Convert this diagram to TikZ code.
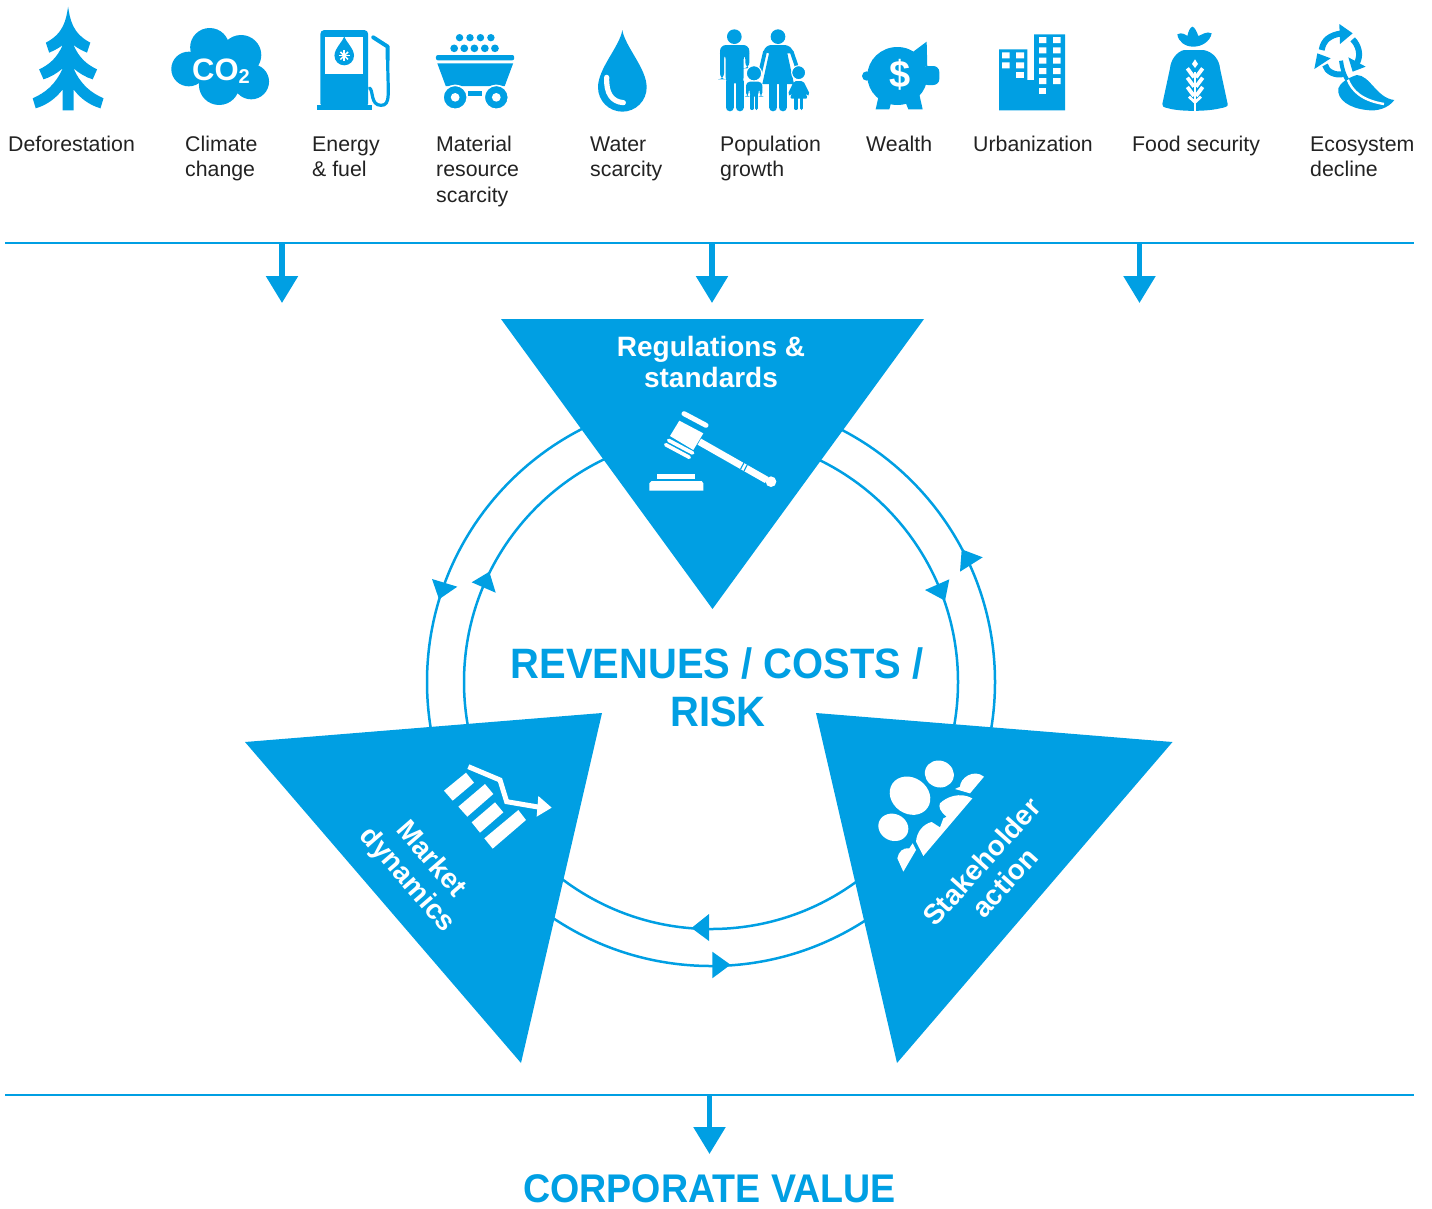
\documentclass[tikz,border=0pt]{standalone}
\usepackage{fontspec}
\setmainfont{Liberation Sans}
\newfontfamily\ttlf[FakeStretch=0.94]{Liberation Sans}
\usetikzlibrary{arrows.meta}
\definecolor{kblue}{HTML}{009FE3}
\definecolor{ktext}{HTML}{222222}
\tikzset{
  lab/.style={anchor=north west,inner sep=0pt,align=left,text=ktext,font=\fontsize{21.3pt}{25.6pt}\selectfont},
  tri/.style={fill=kblue,draw=none},
  ring/.style={draw=kblue,line width=2.5pt},
  rule/.style={draw=kblue,line width=2.6pt},
  flow/.style={draw=kblue,line width=5.5pt,-{Triangle[width=31pt,length=27pt,fill=kblue]}},
  ahead/.style={fill=kblue,draw=none},
  ttl/.style={inner sep=0pt,anchor=base,text=kblue,font=\fontsize{42.5pt}{48pt}\selectfont\ttlf\bfseries},
  wl/.style={inner sep=0pt,align=center,text=white,font=\fontsize{28pt}{31pt}\selectfont\bfseries},
  ico/.style={fill=kblue,draw=none},
  icow/.style={fill=white,draw=none},
  icoz/.style={shift={(#1,0)},scale=1/3},
  kl/.style={draw=kblue,line width=#1,line cap=round},
  wline/.style={draw=white,line width=#1}
}
\begin{document}
\begin{tikzpicture}[x=1pt,y=-1pt]
\useasboundingbox (0,0) rectangle (1432,1208);
% ---------- labels
\node[lab] (l1) at (8,133) {\rule{0pt}{18pt}Deforestation};
\node[lab] (l2) at (185,133) {\rule{0pt}{18pt}Climate\\change};
\node[lab] (l3) at (312,133) {\rule{0pt}{18pt}Energy\\\& fuel};
\node[lab] (l4) at (436,133) {\rule{0pt}{18pt}Material\\resource\\scarcity};
\node[lab] (l5) at (590,133) {\rule{0pt}{18pt}Water\\scarcity};
\node[lab] (l6) at (720,133) {\rule{0pt}{18pt}Population\\growth};
\node[lab] (l7) at (866,133) {\rule{0pt}{18pt}Wealth};
\node[lab] (l8) at (973,133) {\rule{0pt}{18pt}Urbanization};
\node[lab] (l9) at (1132,133) {\rule{0pt}{18pt}Food security};
\node[lab] (l10) at (1310,133) {\rule{0pt}{18pt}Ecosystem\\decline};
% ---------- rules and flow arrows
\coordinate (ruleTopL) at (5,243); \coordinate (ruleTopR) at (1414,243);
\coordinate (ruleBotL) at (5,1095); \coordinate (ruleBotR) at (1414,1095);
\draw[rule] (ruleTopL) -- (ruleTopR);
\draw[rule] (ruleBotL) -- (ruleBotR);
\coordinate (s1) at (282,243); \coordinate (e1) at (282,303);
\coordinate (s2) at (712,243); \coordinate (e2) at (712,303);
\coordinate (s3) at (1139.5,243); \coordinate (e3) at (1139.5,303);
\coordinate (s4) at (709.5,1095); \coordinate (e4) at (709.5,1154);
\draw[flow] (s1) -- (e1);
\draw[flow] (s2) -- (e2);
\draw[flow] (s3) -- (e3);
\draw[flow] (s4) -- (e4);
% ---------- ring
\coordinate (ringC) at (711,682);
\draw[ring] (ringC) circle[radius=284];
\draw[ring] (ringC) circle[radius=247];
\fill[ahead] (432,579) -- (457.3,586.7) -- (439,599.3) -- cycle;
\fill[ahead] (471.7,582.3) -- (489.3,571.7) -- (495.7,592.7) -- cycle;
\fill[ahead] (961.7,549.3) -- (982.7,557.3) -- (960,571.7) -- cycle;
\fill[ahead] (925,590) -- (949.3,579.3) -- (945,600.7) -- cycle;
\fill[ahead] (691.5,928) -- (709,914) -- (709,941) -- cycle;
\fill[ahead] (712.3,951.7) -- (730.5,964.7) -- (712.3,978.3) -- cycle;
% ---------- triangles
\fill[tri] (501,319) -- (924,319) -- (712.5,609) -- cycle;
\fill[tri] (245,742) -- (602,713) -- (521,1063) -- cycle;
\fill[tri] (816,713) -- (1172.5,742) -- (897,1063) -- cycle;
% ---------- titles
\node[ttl] (rev1) at (717,678) {REVENUES / COSTS /};
\node[ttl] (rev2) at (718,726) {RISK};
\node[ttl,font=\fontsize{40pt}{46pt}\selectfont\ttlf\bfseries] (corp) at (709.5,1202) {CORPORATE VALUE};
\node[wl] (reg) at (711,362) {Regulations \&\\standards};
\node[wl,rotate=-49] (mkt) at (418.5,870) {Market\\dynamics};
\node[wl,rotate=48] (stk) at (993,872) {Stakeholder\\action};
% ---------- first group of icons
\begin{scope}[icoz=0,xscale=1.0115]
\fill[ico] (202,20) .. controls (208,60) and (215,100) .. (268,128) -- (258,158)
 .. controls (245,152) and (230,145) .. (218,135) .. controls (235,175) and (260,195) .. (288,208)
 -- (275,238) .. controls (255,232) and (235,220) .. (218,205) .. controls (240,255) and (270,278) .. (307,295)
 -- (298,325) .. controls (265,315) and (238,295) .. (218,268) -- (218,331) -- (186,331) -- (186,268)
 .. controls (166,295) and (139,315) .. (106,325) -- (97,295) .. controls (134,278) and (164,255) .. (186,205)
 .. controls (169,220) and (149,232) .. (129,238) -- (116,208) .. controls (144,195) and (169,175) .. (186,135)
 .. controls (174,145) and (159,152) .. (146,158) -- (136,128) .. controls (189,100) and (196,60) .. (202,20) -- cycle;
% cloud
\fill[ico] (622,142) circle[radius=58] (715,165) circle[radius=60] (560,207) circle[radius=52]
 (745,245) circle[radius=53] (650,255) circle[radius=60] (640,200) circle[radius=70];
% pump
\fill[ico,rounded corners=4pt] (950,90) rectangle (1092,322);
\fill[ico] (940,316) rectangle (1102,331);
\fill[icow] (965,110) rectangle (1077,222);
\fill[ico] (1021,108) .. controls (1025,125) and (1050,145) .. (1050,167) arc[start angle=0,delta angle=180,radius=29] .. controls (992,145) and (1017,125) .. (1021,108) -- cycle;
\foreach \a in {0,45,90,135}{\draw[wline=1.5pt] (1021,167) ++(\a:16) -- ++(\a+180:32);}
\draw[kl=3.2pt] (1096,264) .. controls (1108,270) and (1098,316) .. (1130,316) .. controls (1160,316) and (1150,280) .. (1150,180);
\draw[kl=4pt,line join=round] (1107,112) -- (1150,140) -- (1150,178);
% cart
\foreach \x in {1363,1394,1425,1456}{\fill[ico] (\x,113) circle[radius=11];}
\foreach \x in {1347,1377,1407,1438,1468}{\fill[ico] (\x,145) circle[radius=11.5];}
\fill[ico,rounded corners=2pt] (1293,165) rectangle (1525,181);
\fill[ico] (1297,190) -- (1522,190) -- (1497,258) -- (1322,258) -- cycle;
\draw[draw=white,line width=1.6pt,fill=kblue] (1350,292) circle[radius=36];
\draw[draw=white,line width=1.6pt,fill=kblue] (1472,292) circle[radius=36];
\fill[icow] (1350,292) circle[radius=13] (1472,292) circle[radius=13];
\fill[ico] (1388,272) rectangle (1430,288);
\end{scope}
\node[inner sep=0pt,anchor=base,text=white,font=\fontsize{31pt}{33pt}\selectfont\bfseries] (co2) at (221,80) {CO\raisebox{-3pt}{\fontsize{20pt}{22pt}\selectfont 2}};
% ---------- second group
\begin{scope}[icoz=530]
\fill[ico] (277,90) .. controls (285,140) and (350,205) .. (350,262) arc[start angle=0,delta angle=180,radius=73] .. controls (204,205) and (269,140) .. (277,90) -- cycle;
\draw[wline=5.2pt,line cap=round] (230,232) .. controls (228,280) and (245,305) .. (280,308);
% man
\fill[ico] (613,110) circle[radius=22];
\fill[ico,rounded corners=6pt] (570,238) -- (570,135) -- (658,135) -- (658,205) -- (646,205) -- (646,160) -- (641,160) -- (641,250) -- (587,250) -- (587,160) -- (582,160) -- (582,238) -- cycle;
\draw[kl=8pt] (599,245) -- (599,322) (629,245) -- (629,322);
% woman
\fill[ico] (744,110) circle[radius=22];
\fill[ico] (700,155) .. controls (705,140) and (715,135) .. (725,135) -- (765,135) .. controls (778,137) and (785,142) .. (792,160) -- (772,160) -- (792,252) -- (697,252) -- (717,160) -- cycle;
\draw[kl=3.8pt] (705,155) -- (688,228) (785,155) -- (802,205);
\draw[kl=8pt] (730,245) -- (730,322) (758,245) -- (758,322);
% boy
\fill[ico] (672,220) circle[radius=22];
\draw[draw=white,line width=1pt] (672,220) circle[radius=23];
\fill[ico,rounded corners=4pt] (648,290) -- (648,245) -- (697,245) -- (697,290) -- (689,290) -- (689,262) -- (686,262) -- (686,290) -- (659,290) -- (659,262) -- (656,262) -- (656,290) -- cycle;
\draw[kl=3.5pt] (666,285) -- (666,325) (680,285) -- (680,325);
% girl
\fill[ico] (806,218) circle[radius=20];
\draw[draw=white,line width=1pt] (806,218) circle[radius=21];
\fill[ico,rounded corners=2pt] (792,243) -- (820,243) -- (840,283) -- (832,288) -- (824,270) -- (833,296) -- (780,296) -- (789,270) -- (781,288) -- (773,283) -- cycle;
\draw[kl=3.4pt] (798,292) -- (798,325) (815,292) -- (815,325);
% pig
\fill[ico] (1102,228) ellipse[x radius=90,y radius=87];
\fill[ico] (1150,155) -- (1190,125) -- (1192,205) -- cycle;
\fill[ico,rounded corners=6pt] (1175,198) rectangle (1228,255);
\fill[ico] (1010,228) circle[radius=14];
\fill[ico] (1050,270) -- (1037,328) -- (1078,328) -- (1088,290) -- cycle;
\fill[ico] (1120,290) -- (1135,328) -- (1178,328) -- (1165,270) -- cycle;
\end{scope}
\node[inner sep=0pt,text=white,font=\fontsize{38pt}{40pt}\selectfont\bfseries] (dollar) at (900.5,75) {\$};
% ---------- third group
\begin{scope}[icoz=980]
% city
\fill[ico] (57,148) rectangle (142,331) (142,240) rectangle (162,331) (162,103) rectangle (255,331);
\foreach \y in {157,187}{\fill[icow] (66,\y) rectangle (89,\y+18) (108,\y) rectangle (132,\y+18);}
\fill[icow] (108,217) rectangle (132,235);
\foreach \y in {111,142,173,204,234}{\fill[icow] (177,\y) rectangle (199,\y+18) (219,\y) rectangle (242,\y+18);}
\fill[icow] (177,264) rectangle (199,282);
% sack
\fill[ico] (592,103) .. controls (605,95) and (618,105) .. (622,108) .. controls (625,95) and (630,82) .. (637,80) .. controls (645,82) and (650,95) .. (655,108) .. controls (665,105) and (680,92) .. (695,100) .. controls (690,125) and (665,140) .. (640,140) .. controls (615,140) and (595,125) .. (592,103) -- cycle;
\fill[ico] (612,150) -- (670,150) .. controls (700,155) and (718,180) .. (720,205) -- (743,312) .. controls (745,320) and (735,322) .. (720,325) .. controls (680,335) and (600,335) .. (565,325) .. controls (550,322) and (545,318) .. (547,312) -- (570,205) .. controls (572,180) and (590,155) .. (612,150) -- cycle;
\fill[icow] (645,178) -- (654,192) -- (645,204) -- (636,192) -- cycle;
\draw[wline=2.6pt] (645,215) -- (645,333);
\foreach \y in {0,28,56}{\draw[wline=3.8pt] (622,205+\y) -- (642,232+\y) (668,205+\y) -- (648,232+\y);}
\draw[wline=2.8pt] (627,290) -- (644,306) (663,290) -- (646,306);
% eco
\draw[draw=kblue,line width=6pt] (1025,150) .. controls (1030,120) and (1050,105) .. (1085,100);
\fill[ico] (1078,72) -- (1118,100) -- (1080,132) -- cycle;
\draw[draw=kblue,line width=6pt] (1118,118) .. controls (1135,135) and (1145,165) .. (1130,190);
\fill[ico] (1105,172) -- (1157,200) -- (1118,215) -- cycle;
\draw[draw=kblue,line width=6pt] (1090,222) .. controls (1065,228) and (1040,215) .. (1035,195);
\fill[ico] (1012,160) -- (1052,175) -- (1003,207) -- cycle;
\fill[ico] (1130,225) .. controls (1170,225) and (1190,295) .. (1243,300) .. controls (1225,325) and (1190,335) .. (1160,330) .. controls (1110,325) and (1070,300) .. (1075,265) .. controls (1080,250) and (1100,235) .. (1130,225) -- cycle;
\draw[wline=2.4pt] (1102,235) .. controls (1115,275) and (1150,302) .. (1212,312);
\draw[draw=kblue,line width=4pt] (1083,182) .. controls (1086,205) and (1092,225) .. (1102,240);
\end{scope}
% ---------- gavel
\begin{scope}[shift={(620,400)},scale=1/3]
\fill[icow] (178,62) -- (250,100) -- (220,150) -- (150,108) -- cycle;
\draw[wline=5pt,line cap=round] (192,41) -- (258,76);
\draw[wline=3.6pt,line cap=round] (146,121) -- (218,159);
\draw[wline=3.6pt,line cap=round] (137,134) -- (208,172);
\draw[wline=7pt] (238,125) -- (440,240);
\fill[icow] (453,245) circle[radius=16];
\draw[draw=kblue,line width=1.1pt] (375,182) -- (362,207) (385,188) -- (372,213);
\fill[icow] (112,222) rectangle (225,236);
\fill[icow] (95,243) -- (245,243) -- (250,250) -- (250,272) -- (88,272) -- (88,250) -- cycle;
\end{scope}
% ---------- market
\begin{scope}[shift={(340,750)},scale=1/3]
\fill[icow] (312,122) -- (378,68) -- (402,98) -- (338,152) -- cycle;
\fill[icow] (355,170) -- (435,102) -- (460,132) -- (382,200) -- cycle;
\fill[icow] (395,217) -- (465,157) -- (490,187) -- (420,248) -- cycle;
\fill[icow] (433,265) -- (535,180) -- (558,210) -- (458,296) -- cycle;
\draw[wline=5pt,line join=miter] (385,50) -- (480,90) -- (500,155) -- (600,172);
\fill[icow] (595,138) -- (635,173) -- (590,200) -- cycle;
\end{scope}
% ---------- stakeholders
\begin{scope}[shift={(860,750)},scale=1/3]
\fill[icow,rotate around={-35:(150,137)}] (150,137) ellipse[x radius=64,y radius=54];
\fill[icow,rotate around={-20:(238,72)}] (238,72) ellipse[x radius=44,y radius=40];
\fill[icow,rotate around={-25:(100,232)}] (100,232) ellipse[x radius=46,y radius=40];
\fill[icow] (130,365) -- (112,325) .. controls (115,305) and (130,292) .. (148,295) -- (158,280) -- (168,300) -- cycle;
\fill[icow] (190,318) -- (168,275) .. controls (170,245) and (190,222) .. (215,216) -- (240,232) -- (250,205) -- (260,200) .. controls (240,185) and (235,170) .. (240,160) .. controls (260,140) and (300,125) .. (337,145) -- cycle;
\fill[icow] (330,130) -- (285,117) -- (300,110) .. controls (300,85) and (340,55) .. (372,80) -- cycle;
\end{scope}
\end{tikzpicture}
\end{document}
